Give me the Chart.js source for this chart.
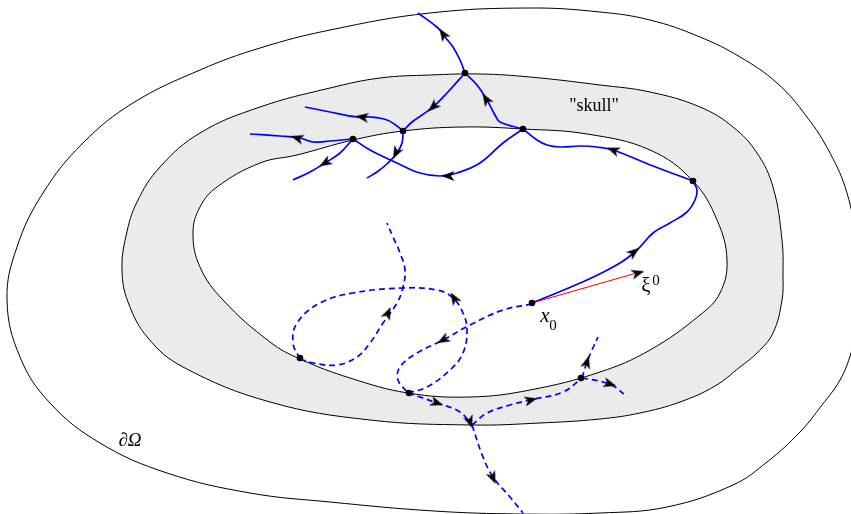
<!DOCTYPE html>
<html>
<head>
<meta charset="utf-8">
<script src="https://cdn.jsdelivr.net/npm/chart.js@4.4.1/dist/chart.umd.min.js"></script>
<style>
  html, body { margin: 0; padding: 0; background: #fff; }
  canvas { display: block; }
</style>
</head>
<body>
<canvas id="sketch" width="851" height="514"></canvas>
<script>
// closed boundaries (x to the right, y downwards)
const boundaryOmega = [
  [7, 300], [17, 247], [43, 193], [83, 143], [133, 103], [200, 70], [260, 48],
  [330, 30], [430, 13], [530, 8], [600, 12], [650, 20], [700, 37], [740, 57], [777, 83],
  [807, 117], [830, 153], [847, 193], [856, 240], [859, 285], [857, 325], [851, 353],
  [840, 380], [822, 405], [800, 432], [767, 462], [733, 485], [667, 507], [600, 513],
  [520, 514], [434, 511], [330, 502], [250, 493], [167, 473], [100, 443], [50, 403], [20, 357]
];
const skullOuter = [
  [122, 270], [126, 236], [137, 202], [160, 167], [200, 133], [260, 107], [330, 88],
  [380, 78], [430, 75], [480, 74], [530, 77], [600, 85], [650, 92], [700, 107],
  [733, 127], [757, 153], [773, 187], [782, 240], [783, 275], [782, 300], [773, 333],
  [757, 353], [740, 367], [715, 386], [680, 402], [640, 413], [600, 419], [540, 423],
  [472, 425], [370, 420], [270, 402], [183, 367], [148, 338], [128, 302]
];
const skullInner = [
  [193, 233], [200, 207], [217, 187], [260, 163], [297, 155], [353, 140], [403, 131],
  [463, 127], [523, 129], [587, 134], [650, 150], [693, 181], [717, 220], [727, 260],
  [720, 293], [700, 315], [650, 350], [600, 372], [530, 390], [470, 397], [408, 393],
  [350, 378], [300, 359], [270, 342], [223, 300], [200, 267]
];

// rays inside the skull (solid) and reflected / transmitted rays (dashed)
const solidRays = [
  [[465, 73], [460, 60], [453, 47], [445, 37], [438, 28], [418, 13]],
  [[523, 129], [500, 122], [495, 115], [487, 100], [477, 85], [465, 73]],
  [[465, 73], [447, 93], [433, 107], [422, 115], [412, 122], [403, 131]],
  [[403, 131], [397, 126], [387, 120], [370, 117], [357, 117], [330, 112], [305, 107]],
  [[403, 131], [402, 143], [397, 153], [388, 163], [377, 172], [367, 178]],
  [[353, 139], [330, 141], [313, 142], [300, 138], [280, 136], [250, 134]],
  [[353, 139], [340, 153], [325, 163], [310, 172], [293, 180]],
  [[523, 129], [503, 143], [480, 163], [457, 173], [440, 176], [420, 173], [397, 163], [370, 150], [353, 139]],
  [[693, 181], [653, 166], [613, 150], [597, 147], [580, 146], [560, 147], [547, 145], [537, 140], [523, 129]],
  [[532, 303], [587, 280], [620, 263], [637, 250], [653, 233], [670, 223], [687, 212], [695, 200], [697, 190], [693, 181]]
];
const dashedRays = [
  [[300, 359], [313, 363], [337, 365], [357, 357], [370, 343], [383, 323], [397, 303], [403, 287], [405, 270], [400, 253], [393, 237], [387, 223]],
  [[408, 393], [427, 387], [450, 370], [463, 353], [467, 330], [463, 313], [453, 298], [437, 290], [403, 288], [353, 293], [320, 303], [297, 323], [293, 343], [300, 359]],
  [[532, 304], [503, 310], [470, 325], [443, 340], [417, 353], [400, 367], [398, 380], [408, 393]],
  [[408, 393], [437, 403], [460, 412], [472, 425]],
  [[472, 425], [483, 457], [493, 477], [510, 497], [523, 513]],
  [[472, 425], [487, 413], [510, 405], [530, 400], [563, 392], [582, 378]],
  [[582, 378], [587, 362], [592, 350], [598, 337]],
  [[582, 378], [603, 382], [615, 387], [627, 397]]
];
const xiRay = [[532, 303], [640, 272]];

const nodes = [
  [465, 73], [403, 131], [353, 139], [523, 129], [693, 181],
  [532, 303], [300, 358], [409, 393], [581, 378]
];

// arrow heads: point and direction of travel
const arrows = [
  [443, 34, -12, -18], [486, 99, -10, -16], [433, 107, -14, 13], [362, 117, -1, -0.15],
  [396, 153, -0.5, 1], [297, 138, -1, -0.3], [325, 163, -1, 0.6], [448, 176, -1, 0],
  [613, 150, -80, -31], [634, 252, 1, -0.8], [638, 273, 108, -31],
  [388, 313, 0.45, -1], [454, 298, -0.6, -1], [443, 340, -1, 0.55], [437, 403, 1, 0.35],
  [470, 422, 0.35, 1], [493, 478, 0.45, 1], [531, 400, 1, -0.25], [587, 362, 0.3, -1],
  [610, 384, 1, 0.3]
];

const labels = [
  { text: '"skull"', x: 594, y: 111, font: '18px "Liberation Serif", "DejaVu Serif", serif' },
  { text: '∂Ω', x: 130, y: 446, font: 'italic 19px "Liberation Serif", "DejaVu Serif", serif' },
  { text: 'x', x: 545, y: 322, font: 'italic 21px "Liberation Serif", "DejaVu Serif", serif' },
  { text: '0', x: 553, y: 330, font: '15px "Liberation Serif", "DejaVu Serif", serif' },
  { text: 'ξ', x: 646, y: 292, font: '21px "Liberation Serif", "DejaVu Serif", serif' },
  { text: '0', x: 656, y: 285, font: '15px "Liberation Serif", "DejaVu Serif", serif' }
];

const BLUE = "#0000ff";
const toXY = (pts) => pts.map(([x, y]) => ({ x, y }));
// wrap the loop so the spline has neighbours at the seam
const loop = (pts) => toXY([pts[pts.length - 1], ...pts, pts[0], pts[1]]);

const arrowHead = (() => {
  const c = document.createElement("canvas");
  c.width = 16;
  c.height = 16;
  const g = c.getContext("2d");
  g.fillStyle = "#000";
  g.beginPath();
  g.moveTo(14.5, 8);
  g.lineTo(1.5, 3);
  g.lineTo(5, 8);
  g.lineTo(1.5, 13);
  g.closePath();
  g.fill();
  return c;
})();

const boundary = (pts, fillColor, order) => {
  const data = loop(pts);
  return {
    data: data,
    showLine: true,
    borderColor: "#000",
    borderWidth: 1,
    backgroundColor: fillColor || "transparent",
    fill: fillColor ? "shape" : false,
    tension: 0.4,
    pointRadius: 0,
    order: order,
    // the first and last pieces are only there to bend the seam, hide them
    segment: {
      borderColor: (s) =>
        s.p0DataIndex === 0 || s.p1DataIndex === data.length - 1 ? "rgba(0,0,0,0)" : undefined,
    },
  };
};

const ray = (pts, dashed) => ({
  data: toXY(pts),
  showLine: true,
  borderColor: BLUE,
  borderWidth: 1.7,
  borderDash: dashed ? [6, 4] : [],
  tension: 0.4,
  pointRadius: 0,
  fill: false,
  order: 5,
});

const labelPlugin = {
  id: "labels",
  afterDatasetsDraw(chart) {
    const { ctx, scales } = chart;
    ctx.save();
    ctx.fillStyle = "#000";
    ctx.textAlign = "center";
    ctx.textBaseline = "alphabetic";
    labels.forEach((l) => {
      ctx.font = l.font;
      ctx.fillText(l.text, scales.x.getPixelForValue(l.x), scales.y.getPixelForValue(l.y));
    });
    ctx.restore();
  },
};

const datasets = [
  boundary(boundaryOmega, null, 10),
  boundary(skullOuter, "#ebebeb", 9),
  boundary(skullInner, "#ffffff", 8),
  ...solidRays.map((r) => ray(r, false)),
  ...dashedRays.map((r) => ray(r, true)),
  {
    data: toXY(xiRay),
    showLine: true,
    borderColor: "#ff0000",
    borderWidth: 1,
    pointRadius: 0,
    order: 4,
  },
  {
    data: toXY(nodes),
    showLine: false,
    pointRadius: 3.3,
    pointBackgroundColor: "#000",
    pointBorderWidth: 0,
    order: 2,
  },
  {
    data: arrows.map(([x, y]) => ({ x, y })),
    showLine: false,
    pointStyle: arrowHead,
    pointRotation: (c) => {
      const a = arrows[c.dataIndex];
      return a ? (Math.atan2(a[3], a[2]) * 180) / Math.PI : 0;
    },
    order: 1,
  },
];

new Chart(document.getElementById("sketch"), {
  type: "scatter",
  data: { datasets },
  options: {
    responsive: false,
    animation: false,
    events: [],
    layout: { padding: 0, autoPadding: false },
    elements: { line: { capBezierPoints: false } },
    plugins: { legend: { display: false }, tooltip: { enabled: false } },
    scales: {
      x: { type: "linear", min: 0, max: 851, display: false },
      y: { type: "linear", min: 0, max: 514, reverse: true, display: false },
    },
  },
  plugins: [labelPlugin],
});
</script>
</body>
</html>
